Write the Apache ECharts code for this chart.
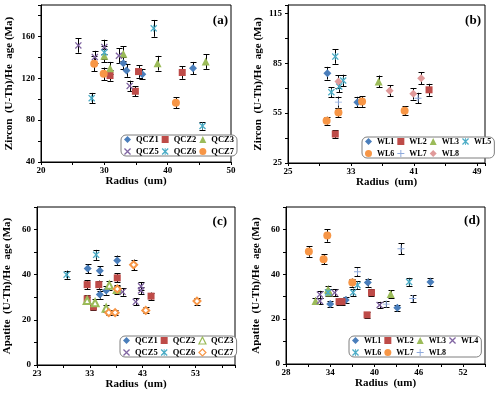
<!DOCTYPE html>
<html><head><meta charset="utf-8">
<script src="https://cdn.jsdelivr.net/npm/echarts@6/dist/echarts.min.js"></script>
<style>html,body{margin:0;padding:0;background:#fff}#c{width:500px;height:395px}</style>
</head><body><div id="c"></div>
<script>
// ---------- DATA: [radius (um), age (Ma), error (Ma)] ----------
// Panel (a) Zircon, QCZ samples
const a_QCZ1 = [[33.0,134.4,6],[33.5,127.4,6],[36.0,123.9,5],[44.0,129.6,6]];
const a_QCZ2 = [[30.9,122.6,5],[34.9,107.6,5],[35.4,126.4,6],[42.3,125.5,6]];
const a_QCZ3 = [[30.0,141.5,6],[30.9,129.6,6],[33.0,143.4,7],[38.4,134.4,7],[46.0,136.0,7]];
const a_QCZ5 = [[25.9,151.4,7],[28.5,140.2,6],[30.0,149.8,7],[32.3,141.5,7],[34.0,112.7,5]];
const a_QCZ6 = [[28.0,101.0,5],[30.0,144.7,6],[37.8,167.7,8],[45.5,74.4,3.5]];
const a_QCZ7 = [[28.4,133.8,7],[29.9,124.2,6],[41.3,96.7,5]];
// Panel (b) Zircon, WL samples
const b_WL1 = [[30.0,79.0,3.8],[33.8,61.6,3.2]];
const b_WL2 = [[31.0,42.4,2.3],[42.9,69.0,3.6]];
const b_WL3 = [[36.5,74.0,3.6]];
const b_WL5 = [[31.0,89.0,4.3],[30.5,67.6,3.0],[32.0,74.6,3.5],[31.5,71.0,3.3]];
const b_WL6 = [[29.9,50.4,2.4],[31.4,55.4,2.8],[34.4,62.0,3.2],[39.8,56.4,2.8]];
const b_WL7 = [[31.4,61.6,3.3],[41.5,64.0,3.2]];
const b_WL8 = [[31.4,74.0,3.8],[37.9,68.4,3.3],[40.9,66.6,3.5],[41.9,76.0,3.6]];
// Panel (c) Apatite, QCZ samples
const c_QCZ1 = [[32.6,42.7,2.0],[34.9,41.8,2.0],[38.2,46.3,2.2],[34.9,31.2,1.8],[36.1,33.0,1.8]];
const c_QCZ2 = [[32.5,35.6,2.0],[34.7,35.6,1.8],[38.2,38.6,2.0],[32.5,29.3,1.5],[33.7,25.7,1.4],[44.6,30.5,1.6]];
const c_QCZ3 = [[32.5,28.6,1.5],[34.0,27.6,1.5],[36.1,25.1,1.5],[36.7,35.3,2.0],[38.2,33.4,1.8]];
const c_QCZ5 = [[39.2,32.4,1.7],[41.7,28.0,1.5],[42.7,34.9,1.8],[42.7,33.0,1.7]];
const c_QCZ6 = [[28.6,40.0,1.8],[34.2,48.8,2.2]];
const c_QCZ7 = [[38.2,33.7,1.8],[36.6,23.2,1.2],[37.8,23.2,1.2],[41.3,44.4,2.3],[43.6,24.2,1.3],[53.3,28.3,1.5]];
// Panel (d) Apatite, WL samples
const d_WL1 = [[34.0,26.7,1.4],[36.1,28.5,1.5],[39.1,36.3,1.8],[43.1,25.1,1.4],[47.6,36.6,1.8]];
const d_WL2 = [[35.2,27.8,1.4],[35.6,27.8,1.4],[39.0,21.9,1.2],[39.6,31.8,1.7]];
const d_WL3 = [[32.0,28.1,1.5],[33.7,33.2,1.7],[33.9,31.9,1.7],[42.2,31.2,1.7]];
const d_WL4 = [[32.6,31.0,1.6],[32.6,28.1,1.5],[34.6,31.8,1.6],[40.7,26.3,1.4]];
const d_WL6 = [[33.7,31.9,1.7],[37.1,31.9,1.7],[37.7,35.2,1.8],[44.7,36.6,1.8]];
const d_WL7 = [[31.1,50.2,2.4],[33.1,46.7,2.3],[33.6,57.3,2.8],[37.0,36.3,1.8]];
const d_WL8 = [[37.7,41.1,2.0],[41.6,26.7,1.4],[43.6,51.4,2.5],[45.2,29.2,1.5]];

// tick labels
const a_xLabels = [20,30,40,50];
const a_yLabels = [40,80,120,160];
const b_xLabels = [25,33,41,49];
const b_yLabels = [25,55,85,115];
const c_xLabels = [23,33,43,53];
const c_yLabels = [0,20,40,60];
const d_xLabels = [28,34,40,46,52];
const d_yLabels = [0,20,40,60];

const panelTags = ['(a)','(b)','(c)','(d)'];
const yTitles = ['Zircon  (U-Th)/He  age (Ma)','Zircon  (U-Th)/He  age (Ma)','Apatite  (U-Th)/He  age (Ma)','Apatite  (U-Th)/He  age (Ma)'];
const xTitle = 'Radius  (um)';

// ---------- STYLES ----------
const FONT = '"Liberation Serif", "Times New Roman", serif';
const C = {blue:'#4A7EBB', red:'#BE4B48', green:'#9BBB59', purple:'#8064A2', aqua:'#4BACC6', orange:'#F79646', lblue:'#8FAADC', pink:'#E09A9A'};
const P_X = 'path://M0,1.3L1.3,0L5,3.7L8.7,0L10,1.3L6.3,5L10,8.7L8.7,10L5,6.3L1.3,10L0,8.7L3.7,5Z';
const P_STAR = 'path://M0,1.3L1.3,0L5,3.7L8.7,0L10,1.3L6.3,5L10,8.7L8.7,10L5,6.3L1.3,10L0,8.7L3.7,5ZM4.4,0L5.6,0L5.6,10L4.4,10Z';
const P_PLUS = 'path://M4.3,0H5.7V4.3H10V5.7H5.7V10H4.3V5.7H0V4.3H4.3Z';

const panels = [
  {grid:{left:41,top:5,width:190,height:157}, x:[20,50,5,a_xLabels], y:[40,190,20,a_yLabels],
   legend:{left:121,top:135,width:118,fs:8.5}, tag:[228,21], yGap:26, xGap:11,
   sets:[['QCZ1',a_QCZ1,'diamond',C.blue,8],['QCZ2',a_QCZ2,'rect',C.red,7],['QCZ3',a_QCZ3,'triangle',C.green,8],
         ['QCZ5',a_QCZ5,P_X,C.purple,7],['QCZ6',a_QCZ6,P_STAR,C.aqua,7],['QCZ7',a_QCZ7,'circle',C.orange,8]]},
  {grid:{left:288,top:5,width:197,height:158}, x:[25,50,4,b_xLabels], y:[25,120,15,b_yLabels],
   legend:{left:362,top:137,width:134,fs:8}, tag:[481,21], yGap:24, xGap:11,
   sets:[['WL1',b_WL1,'diamond',C.blue,8],['WL2',b_WL2,'rect',C.red,7],['WL3',b_WL3,'triangle',C.green,8],
         ['WL5',b_WL5,P_STAR,C.aqua,7],['WL6',b_WL6,'circle',C.orange,8],['WL7',b_WL7,P_PLUS,C.lblue,7],['WL8',b_WL8,'diamond',C.pink,8]]},
  {grid:{left:37,top:207,width:198,height:158}, x:[23,60.5,5,c_xLabels], y:[0,70,10,c_yLabels],
   legend:{left:120,top:336,width:118,fs:8.5}, tag:[227,222], yGap:24, xGap:12,
   sets:[['QCZ1',c_QCZ1,'diamond',C.blue,8],['QCZ2',c_QCZ2,'rect',C.red,7],['QCZ3',c_QCZ3,'emptyTriangle',C.green,7],
         ['QCZ5',c_QCZ5,P_X,C.purple,7],['QCZ6',c_QCZ6,P_STAR,C.aqua,7],['QCZ7',c_QCZ7,'emptyDiamond',C.orange,7]]},
  {grid:{left:286,top:207,width:199,height:157}, x:[28,55,3,d_xLabels], y:[0,70,10,d_yLabels],
   legend:{left:349,top:336,width:134,fs:8}, tag:[480,221], yGap:24, xGap:12,
   sets:[['WL1',d_WL1,'diamond',C.blue,8],['WL2',d_WL2,'rect',C.red,7],['WL3',d_WL3,'triangle',C.green,8],
         ['WL4',d_WL4,P_X,C.purple,7],['WL6',d_WL6,P_STAR,C.aqua,7],['WL7',d_WL7,'circle',C.orange,8],['WL8',d_WL8,P_PLUS,C.lblue,7]]}
];

const grids=[], xAxes=[], yAxes=[], series=[], legends=[], graphics=[];
function errRender(params, api){
  const x=api.value(0), y=api.value(1), e=api.value(2);
  const t=api.coord([x,y+e]), b=api.coord([x,y-e]);
  const cx=Math.round(t[0])+0.5, w=3, st={stroke:'#000',lineWidth:1};
  return {type:'group',children:[
    {type:'line',shape:{x1:cx,y1:t[1],x2:cx,y2:b[1]},style:st},
    {type:'line',shape:{x1:cx-w,y1:Math.round(t[1])+0.5,x2:cx+w,y2:Math.round(t[1])+0.5},style:st},
    {type:'line',shape:{x1:cx-w,y1:Math.round(b[1])+0.5,x2:cx+w,y2:Math.round(b[1])+0.5},style:st}
  ]};
}
panels.forEach((p,i)=>{
  grids.push(Object.assign({show:true,borderColor:'#000',borderWidth:1,backgroundColor:'#fff'},p.grid));
  const ax = (r,pos,title,gap,rot)=>({
    type:'value', gridIndex:i, min:r[0], max:r[1], interval:r[2], position:pos,
    name:title, nameLocation:'middle', nameGap:gap, nameRotate:rot,
    nameTextStyle:{fontFamily:FONT,fontWeight:'bold',fontSize:11,color:'#000'},
    axisLine:{show:true,onZero:false,lineStyle:{color:'#000',width:1}},
    axisTick:{show:true,inside:false,length:3,lineStyle:{color:'#000'}},
    splitLine:{show:false},
    axisLabel:{fontFamily:FONT,fontWeight:'bold',fontSize:9,color:'#000',margin:pos==='left'?6:4,
      showMaxLabel:true,showMinLabel:true,
      formatter:v=>r[3].some(l=>Math.abs(l-v)<1e-6)?String(v):''}
  });
  xAxes.push(ax(p.x,'bottom',xTitle,p.xGap,0));
  yAxes.push(ax(p.y,'left',yTitles[i],p.yGap,90));
  const names=[];
  const errData=[];
  p.sets.forEach(([n,arr,sym,col,sz])=>{
    const nm=n+'_'+i;
    const empty = sym.indexOf('empty')===0;
    names.push(empty ? {name:nm,icon:sym.replace('empty','').toLowerCase(),
      itemStyle:{color:'#fff',borderColor:col,borderWidth:1.2}} : nm);
    series.push({type:'scatter',name:nm,xAxisIndex:i,yAxisIndex:i,symbol:sym,symbolSize:sz,z:3,
      itemStyle:{color:col,opacity:1,borderColor:col,borderWidth:empty?1.3:0},
      data:arr.map(d=>[d[0],d[1]])});
    arr.forEach(d=>errData.push(d));
  });
  series.push({type:'custom',xAxisIndex:i,yAxisIndex:i,z:2,silent:true,renderItem:errRender,
    encode:{x:0,y:1},data:errData});
  legends.push({data:names,left:p.legend.left,top:p.legend.top,width:p.legend.width,orient:'horizontal',
    itemWidth:7,itemHeight:7,itemGap:3,padding:[0,3],borderColor:'#7f7f7f',borderWidth:1,borderRadius:5,
    backgroundColor:'#fff',selectedMode:false,formatter:n=>n.split('_')[0],
    textStyle:{fontFamily:FONT,fontWeight:'bold',fontSize:p.legend.fs,lineHeight:9,color:'#000'}});
  graphics.push({type:'text',x:p.tag[0],y:p.tag[1],z:10,
    style:{text:panelTags[i],align:'right',verticalAlign:'middle',fill:'#000',
      font:'bold 13px "Liberation Serif", serif'}});
});

const chart = echarts.init(document.getElementById('c'),null,{renderer:'canvas'});
chart.setOption({animation:false,backgroundColor:'#fff',grid:grids,xAxis:xAxes,yAxis:yAxes,
  legend:legends,series:series,graphic:graphics});
</script></body></html>
